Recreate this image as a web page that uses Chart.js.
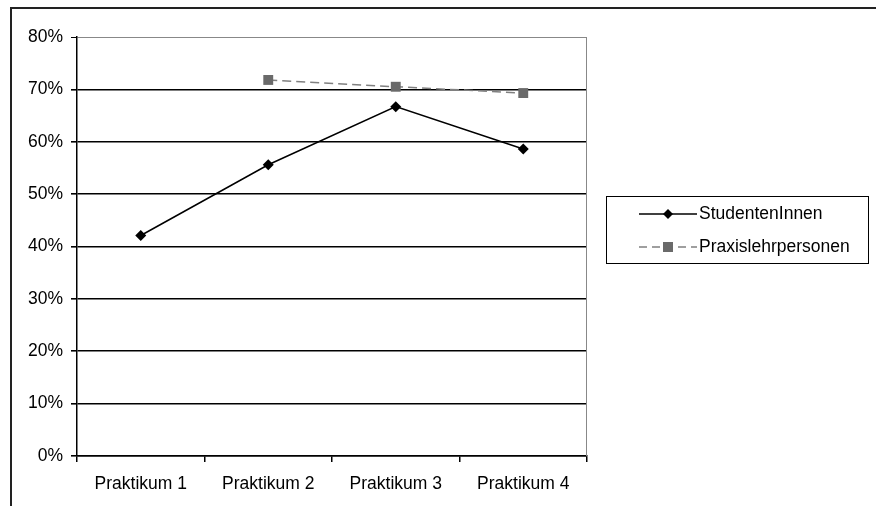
<!DOCTYPE html>
<html>
<head>
<meta charset="utf-8">
<title>StudentenInnen / Praxislehrpersonen</title>
<script src="https://cdn.jsdelivr.net/npm/chart.js"></script>
<style>
html, body {
  margin: 0;
  padding: 0;
  background: #fff;
}
.wrap {
  position: relative;
  width: 876px;
  height: 506px;
  overflow: hidden;
}
.legend {
  position: absolute;
  left: 606px;
  top: 196px;
  width: 263px;
  height: 68px;
  box-sizing: border-box;
  border: 1.5px solid #000;
  font-family: "Liberation Sans", Arial, sans-serif;
  font-size: 17.5px;
  color: #000;
}
.legend-row {
  display: flex;
  align-items: center;
  height: 33px;
  margin-left: 32px;
}
.legend-row svg {
  width: 58px;
  height: 16px;
  margin-right: 2px;
}
</style>
</head>
<body>
<div class="wrap">
  <canvas id="chart" width="876" height="506"></canvas>
  <div class="legend" id="legend"></div>
</div>

<script>
// Werte in Prozent
const kategorien = ['Praktikum 1', 'Praktikum 2', 'Praktikum 3', 'Praktikum 4'];
const studenten = [42.1, 55.6, 66.7, 58.6];
const praxis = [null, 71.8, 70.5, 69.3];
const serien = ['StudentenInnen', 'Praxislehrpersonen'];

const schrift = { family: '"Liberation Sans", Arial, sans-serif', size: 17.5 };

// Rahmen oben/links und rechte Kante der Zeichenfläche
const rahmen = {
  id: 'rahmen',
  afterDraw(chart) {
    const ctx = chart.ctx;
    const a = chart.chartArea;
    ctx.save();
    ctx.strokeStyle = '#222';
    ctx.lineWidth = 2;
    ctx.beginPath();
    ctx.moveTo(11, 520);
    ctx.lineTo(11, 8);
    ctx.lineTo(890, 8);
    ctx.stroke();
    ctx.strokeStyle = '#888';
    ctx.lineWidth = 1;
    ctx.beginPath();
    ctx.moveTo(a.right - 0.5, a.top);
    ctx.lineTo(a.right - 0.5, a.bottom);
    ctx.stroke();
    ctx.restore();
  }
};

const chart = new Chart(document.getElementById('chart'), {
  type: 'line',
  data: {
    labels: kategorien,
    datasets: [{
      label: serien[0],
      data: studenten,
      borderColor: '#000',
      backgroundColor: '#000',
      borderWidth: 1.5,
      pointStyle: 'rectRot',
      pointRadius: 5.5,
      pointBorderWidth: 0,
      tension: 0
    }, {
      label: serien[1],
      data: praxis,
      borderColor: '#808080',
      backgroundColor: '#6a6a6a',
      borderWidth: 1.5,
      borderDash: [9, 5],
      pointStyle: 'rect',
      pointRadius: 7,
      pointBorderWidth: 0,
      tension: 0
    }]
  },
  options: {
    responsive: false,
    animation: false,
    layout: { padding: { left: 0, top: 37, right: 289, bottom: 0 } },
    plugins: {
      legend: { display: false },
      tooltip: { enabled: false }
    },
    scales: {
      x: {
        offset: true,
        grid: {
          offset: true,
          drawOnChartArea: false,
          drawTicks: true,
          tickLength: 6,
          color: '#000',
          lineWidth: 1.5
        },
        border: { color: '#000', width: 1.5 },
        ticks: { color: '#000', font: schrift, padding: 12, maxRotation: 0 },
        afterFit(scale) { scale.height = 50; }
      },
      y: {
        min: 0,
        max: 80,
        grid: {
          color: (c) => (c.tick && c.tick.value === 80 ? '#888' : '#000'),
          tickColor: '#000',
          lineWidth: (c) => (c.tick && c.tick.value === 80 ? 1 : 1.6),
          tickLength: 6
        },
        border: { color: '#000', width: 1.5 },
        ticks: {
          stepSize: 10,
          color: '#000',
          font: schrift,
          padding: 8,
          callback: (v) => v + '%'
        },
        afterFit(scale) { scale.width = 77; }
      }
    }
  },
  plugins: [rahmen]
});

// Legende mit Linienmuster und Markierung je Serie
const legende = document.getElementById('legend');
chart.data.datasets.forEach((ds) => {
  const row = document.createElement('div');
  row.className = 'legend-row';
  const dash = ds.borderDash ? 'stroke-dasharray="8 5"' : '';
  const marker = ds.pointStyle === 'rect'
    ? `<rect x="24" y="3" width="10" height="10" fill="${ds.backgroundColor}"/>`
    : `<polygon points="29,3 34,8 29,13 24,8" fill="${ds.backgroundColor}"/>`;
  row.innerHTML =
    `<svg viewBox="0 0 58 16"><line x1="0" y1="8" x2="58" y2="8" stroke="${ds.borderColor}" stroke-width="1.5" ${dash}/>${marker}</svg>` +
    `<span>${ds.label}</span>`;
  legende.appendChild(row);
});
</script>
</body>
</html>
